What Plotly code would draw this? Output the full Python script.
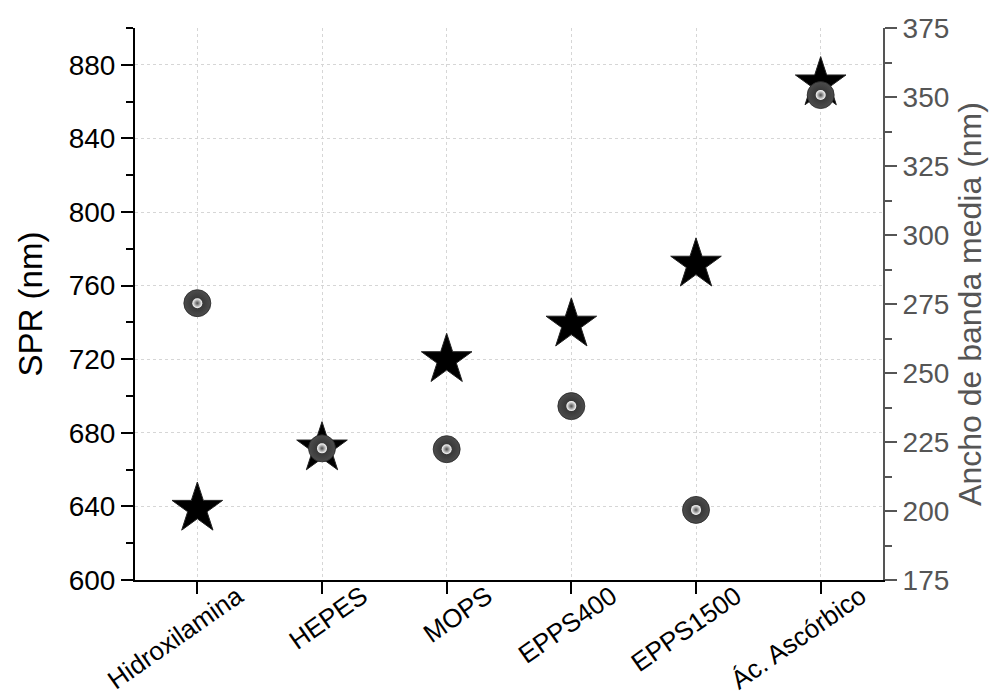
import plotly.graph_objects as go

categories = ["Hidroxilamina", "HEPES", "MOPS", "EPPS400", "EPPS1500", "Ác. Ascórbico"]
spr_nm = [638.8, 671.6, 719.6, 738.9, 771.5, 870.0]
ancho_banda_nm = [275.3, 222.7, 222.4, 238.0, 200.4, 350.7]

left_ticks = [600, 640, 680, 720, 760, 800, 840, 880]
right_ticks = [175, 200, 225, 250, 275, 300, 325, 350, 375]

FONT = "Liberation Sans, Arial, sans-serif"
GRAY = "#555555"

fig = go.Figure()

fig.add_trace(go.Scatter(
    x=categories, y=spr_nm, mode="markers", name="SPR",
    marker=dict(symbol="star", size=38, color="black",
                line=dict(color="#222222", width=1)),
    xaxis="x", yaxis="y", showlegend=False,
))
fig.add_trace(go.Scatter(
    x=categories, y=ancho_banda_nm, mode="markers", name="Ancho de banda media",
    marker=dict(symbol="circle", size=27, color="#4c4c4c",
                gradient=dict(type="radial", color="#2c2c2c"),
                line=dict(color="#262626", width=0.8)),
    xaxis="x", yaxis="y2", showlegend=False,
))
fig.add_trace(go.Scatter(
    x=categories, y=ancho_banda_nm, mode="markers", hoverinfo="skip",
    marker=dict(symbol="circle", size=10, color="#ffffff",
                gradient=dict(type="radial", color="#4c4c4c"),
                line=dict(width=0)),
    xaxis="x", yaxis="y2", showlegend=False,
))

fig.update_layout(
    width=990, height=691,
    margin=dict(l=127, r=115, t=20, b=119),
    paper_bgcolor="white", plot_bgcolor="white",
    font=dict(family=FONT, size=28, color="black"),
    xaxis=dict(
        type="category", categoryorder="array", categoryarray=categories,
        range=[-0.5, 5.5], automargin=False,
        showline=True, linecolor="black", linewidth=2,
        ticks="outside", ticklen=12, tickwidth=2, tickcolor="black",
        tickangle=-35, tickfont=dict(size=26, family=FONT),
        ticklabelshift=40, ticklabelstandoff=-23,
        showgrid=True, gridcolor="#d6d6d6", griddash="dot", gridwidth=1,
        zeroline=False,
    ),
    xaxis2=dict(
        overlaying="x", side="top", anchor="y", automargin=False,
        range=[-0.5, 5.5], tickmode="array", tickvals=[0, 1, 2, 3, 4, 5],
        showticklabels=False, showline=True, linecolor="black", linewidth=2,
        ticks="inside", ticklen=12, tickwidth=2, tickcolor="black",
        showgrid=False, zeroline=False,
    ),
    yaxis=dict(
        range=[600, 900], tickmode="array", tickvals=left_ticks, automargin=False,
        showline=True, linecolor="black", linewidth=2,
        ticks="outside", ticklen=12, tickwidth=2, tickcolor="black",
        minor=dict(ticks="outside", ticklen=7, tickwidth=2, tickcolor="black",
                   dtick=20, tick0=600, showgrid=False),
        tickfont=dict(size=28, family=FONT),
        title=dict(text="SPR (nm)", font=dict(size=33, family=FONT), standoff=16),
        showgrid=True, gridcolor="#d6d6d6", griddash="dot", gridwidth=1,
        zeroline=False,
    ),
    yaxis2=dict(
        overlaying="y", side="right", anchor="x", automargin=False,
        range=[175, 375], tickmode="array", tickvals=right_ticks,
        showline=True, linecolor=GRAY, linewidth=2,
        ticks="outside", ticklen=12, tickwidth=2, tickcolor=GRAY,
        minor=dict(ticks="outside", ticklen=7, tickwidth=2, tickcolor=GRAY,
                   dtick=12.5, tick0=175, showgrid=False),
        tickfont=dict(size=28, family=FONT, color=GRAY),
        title=dict(text="Ancho de banda media (nm)",
                   font=dict(size=32, family=FONT, color=GRAY), standoff=10),
        showgrid=False, zeroline=False,
    ),
)

fig.write_html("out.html")
